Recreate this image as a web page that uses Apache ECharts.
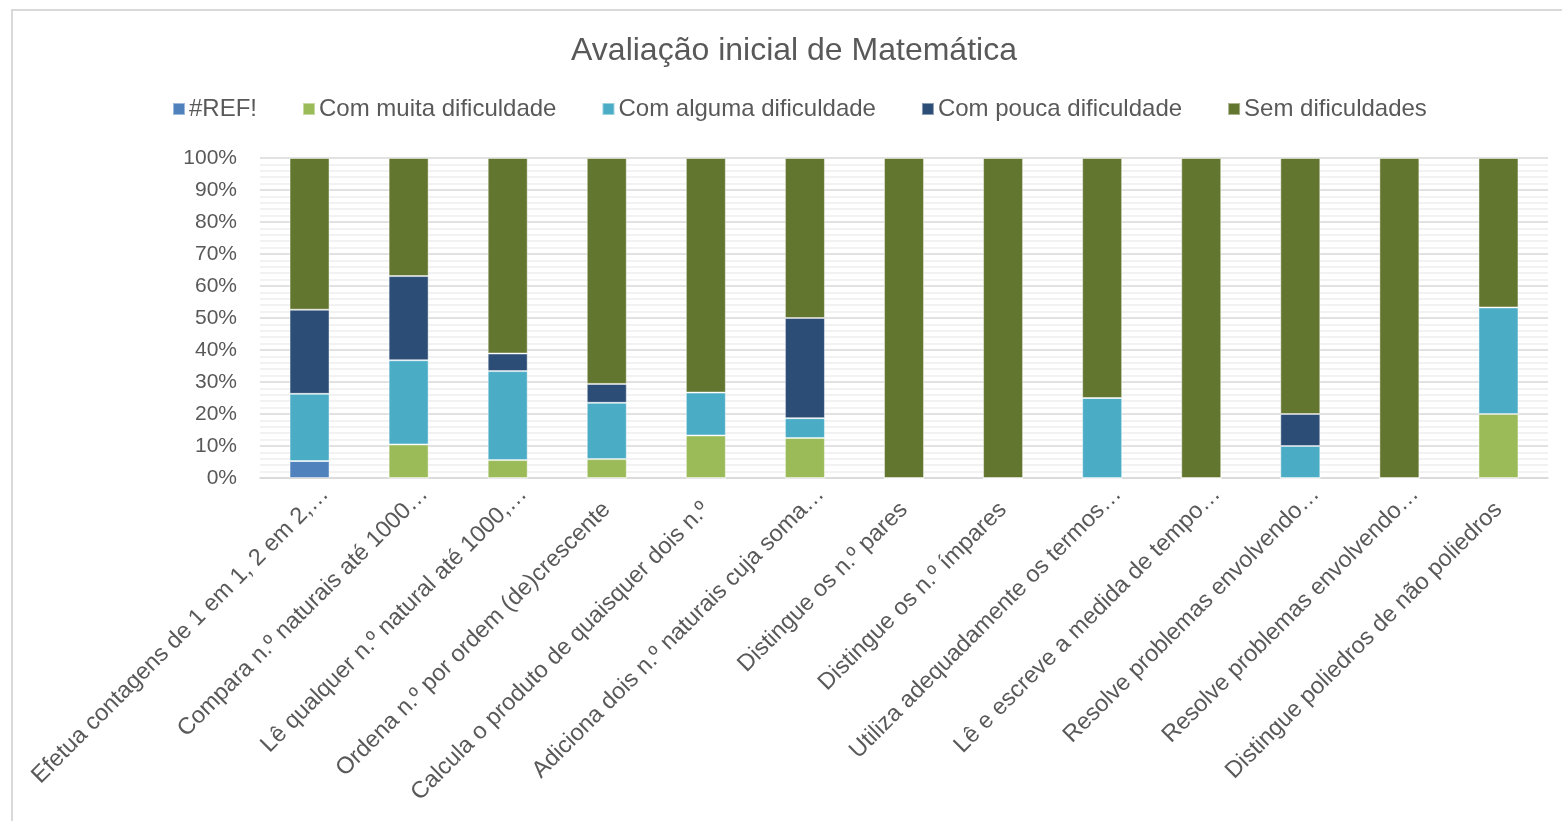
<!DOCTYPE html>
<html>
<head>
<meta charset="utf-8">
<title>Avaliação inicial de Matemática</title>
<script src="https://cdn.jsdelivr.net/npm/echarts@6/dist/echarts.min.js"></script>
<style>
  html, body { margin: 0; padding: 0; background: #ffffff; overflow: hidden; }
  body { width: 1562px; height: 821px; position: relative; }
  #frame { position: absolute; left: 11px; top: 9px; width: 1600px; height: 900px;
           border-left: 2px solid #d9d9d9; border-top: 2px solid #d9d9d9; box-sizing: border-box; }
  #chart { position: absolute; left: 0; top: 0; width: 1588px; height: 821px; }
</style>
</head>
<body>
<div id="frame"></div>
<div id="chart"></div>
<script>
// Competências avaliadas (eixo das categorias)
const categories = [
  'Efetua contagens de 1 em 1, 2 em 2,…',
  'Compara n.º naturais até 1000…',
  'Lê qualquer n.º natural até 1000,…',
  'Ordena n.º por ordem (de)crescente',
  'Calcula o produto de quaisquer dois n.º',
  'Adiciona dois n.º naturais cuja soma…',
  'Distingue os n.º pares',
  'Distingue os n.º ímpares',
  'Utiliza adequadamente os termos…',
  'Lê e escreve a medida de tempo…',
  'Resolve problemas envolvendo…',
  'Resolve problemas envolvendo…',
  'Distingue poliedros de não poliedros'
];

// Percentagem de alunos em cada nível
const refErr      = [5.3, 0, 0, 0, 0, 0, 0, 0, 0, 0, 0, 0, 0];
const muitaDific  = [0, 10.5, 5.6, 5.9, 13.3, 12.5, 0, 0, 0, 0, 0, 0, 20.0];
const algumaDific = [21.0, 26.3, 27.8, 17.6, 13.4, 6.2, 0, 0, 25.0, 0, 10.0, 0, 33.3];
const poucaDific  = [26.3, 26.3, 5.5, 5.9, 0, 31.3, 0, 0, 0, 0, 10.0, 0, 0];
const semDific    = [47.4, 36.9, 61.1, 70.6, 73.3, 50.0, 100, 100, 75.0, 100, 80.0, 100, 46.7];

const seriesNames = ['#REF!', 'Com muita dificuldade', 'Com alguma dificuldade', 'Com pouca dificuldade', 'Sem dificuldades'];
const seriesData  = [refErr, muitaDific, algumaDific, poucaDific, semDific];
const seriesColors = ['#4f81bd', '#9bbb59', '#4bacc6', '#2c4d75', '#63762f'];

const FONT = '"Liberation Sans", Arial, sans-serif';
const TEXT = '#595959';

// Truncated labels run a little past the tick, like the spreadsheet renders them
const axisData = categories.map(name => name.endsWith('…')
  ? { value: name, textStyle: { padding: [0, -22, 0, 0] } }
  : name);

const chart = echarts.init(document.getElementById('chart'), null, { renderer: 'canvas' });

chart.setOption({
  backgroundColor: 'transparent',
  animation: false,
  title: {
    text: 'Avaliação inicial de Matemática',
    left: 'center',
    top: 30,
    textStyle: { fontFamily: FONT, fontSize: 32, fontWeight: 'normal', color: TEXT }
  },
  legend: {
    left: 167,
    top: 92,
    itemWidth: 12,
    itemHeight: 12,
    itemGap: 45,
    icon: 'rect',
    textStyle: { fontFamily: FONT, fontSize: 24, color: TEXT, padding: [0, 0, 0, -1] },
    data: seriesNames
  },
  grid: { left: 260, right: 40, top: 158, bottom: 343, containLabel: false },
  xAxis: {
    type: 'category',
    data: axisData,
    axisLine: { show: true, lineStyle: { color: '#d9d9d9', width: 1.5 } },
    axisTick: { show: false },
    axisLabel: {
      interval: 0,
      rotate: 45,
      margin: 28,
      fontFamily: FONT,
      fontSize: 23.5,
      color: TEXT
    }
  },
  yAxis: {
    type: 'value',
    min: 0,
    max: 100,
    interval: 10,
    axisLine: { show: false },
    axisTick: { show: false },
    axisLabel: {
      margin: 23,
      fontFamily: FONT,
      fontSize: 21,
      color: TEXT,
      formatter: v => v + '%'
    },
    splitLine: { show: true, lineStyle: { color: '#d9d9d9', width: 1.5 } },
    minorTick: { show: false, splitNumber: 5 },
    minorSplitLine: { show: true, lineStyle: { color: '#eeeeee', width: 1.5 } }
  },
  series: seriesNames.map((name, i) => ({
    name,
    type: 'bar',
    stack: 'total',
    barWidth: 40,
    data: seriesData[i],
    itemStyle: {
      color: seriesColors[i],
      borderColor: 'rgba(255,255,255,0.45)',
      borderWidth: 1
    }
  }))
});
</script>
</body>
</html>
